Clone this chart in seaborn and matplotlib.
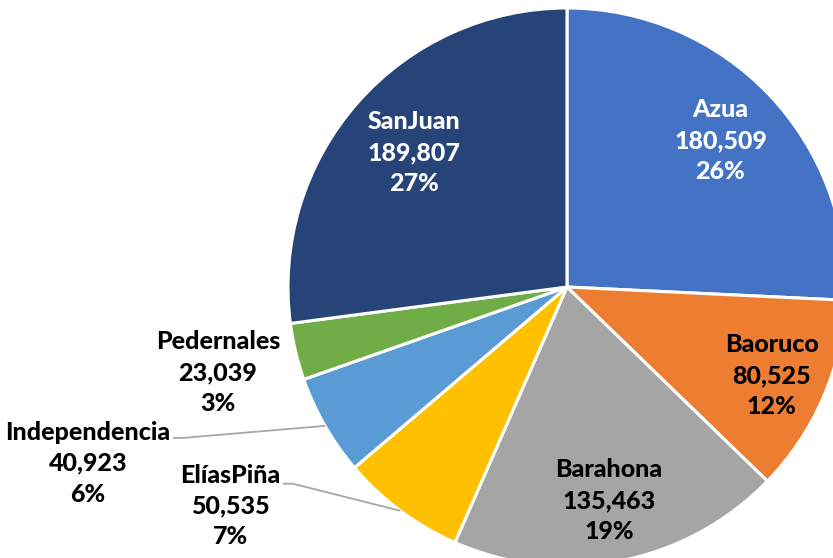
"""
Pie chart: population by province (south-west region).
"""

import numpy as np
import matplotlib
matplotlib.use('Agg')
import matplotlib.pyplot as plt
import seaborn as sns

provinces = ['Azua', 'Baoruco', 'Barahona', 'ElíasPiña', 'Independencia', 'Pedernales', 'SanJuan']
population = [180509, 80525, 135463, 50535, 40923, 23039, 189807]
percent = [26, 12, 19, 7, 6, 3, 27]  # as printed on the chart
colors = ['#4472C4', '#ED7D31', '#A5A5A5', '#FFC000', '#5B9BD5', '#70AD47', '#264478']
text_colors = ['white', 'black', 'black', 'black', 'black', 'black', 'white']

# label placement: inside labels sit on the wedge's mid angle,
# outside labels get a fixed spot (data units, radius = 1)
inside_r = {'Azua': 0.76, 'Baoruco': 0.80, 'Barahona': 0.78, 'SanJuan': 0.73}
outside_pos = {
    'ElíasPiña': (-1.208, -0.785),
    'Independencia': (-1.717, -0.631),
    'Pedernales': (-1.251, -0.308),
}
leader_end = {
    'ElíasPiña': (-1.018, -0.705),
    'Independencia': (-1.412, -0.541),
}

sns.set_theme(style='white')
plt.rcParams['font.family'] = ['Lato', 'DejaVu Sans']

fig = plt.figure(figsize=(8.33, 5.58), dpi=100)
ax = fig.add_axes([0, 0, 1, 1])

wedges, _ = ax.pie(population, colors=colors, startangle=90, counterclock=False,
                   radius=1.0, wedgeprops=dict(edgecolor='white', linewidth=2.2))

# pie() resets the limits, so set them afterwards
cx, cy, R = 567, 287, 279
ax.set_xlim(-cx / R, (833 - cx) / R)
ax.set_ylim(-(558 - cy) / R, cy / R)
ax.set_aspect('equal')
ax.axis('off')

for w, name, val, pct, tc in zip(wedges, provinces, population, percent, text_colors):
    mid = np.deg2rad((w.theta1 + w.theta2) / 2)
    label = f"{name}\n{val:,}\n{pct}%"
    if name in inside_r:
        r = inside_r[name]
        x, y = r * np.cos(mid), r * np.sin(mid)
    else:
        x, y = outside_pos[name]
    ax.text(x, y, label, ha='center', va='center', color=tc,
            fontsize=18, fontweight=900, linespacing=1.42)
    if name in leader_end:
        ex, ey = leader_end[name]
        px, py = np.cos(mid), np.sin(mid)
        ax.plot([ex, ex + 0.035, px], [ey, ey, py], color='#A6A6A6', lw=1.3,
                solid_capstyle='butt')

fig.savefig('out.png', dpi=100)
